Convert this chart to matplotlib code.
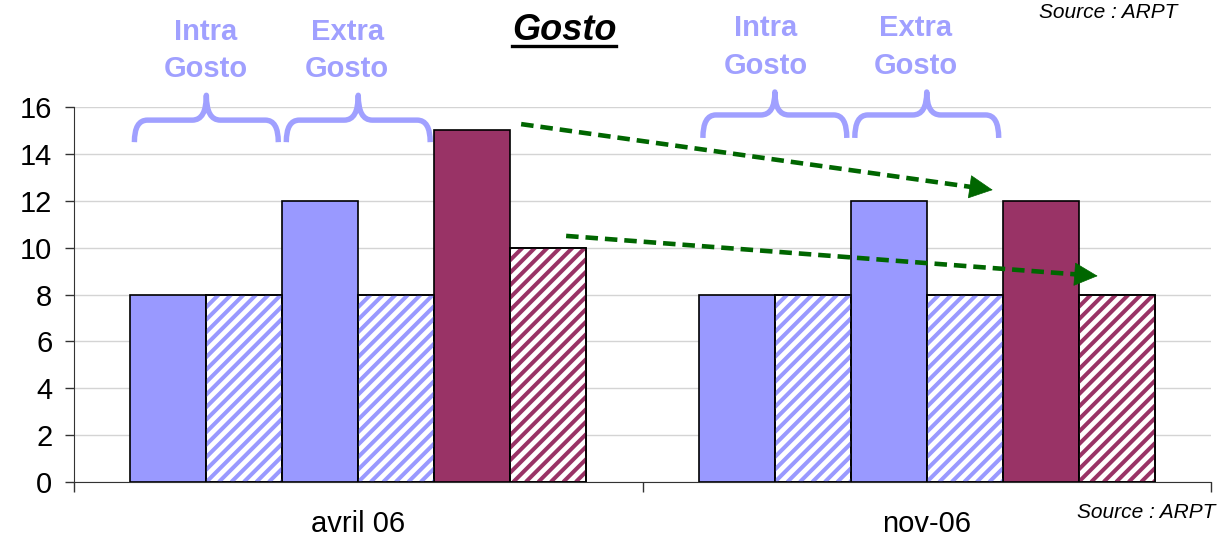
import numpy as np
import matplotlib
matplotlib.use("Agg")
import matplotlib.pyplot as plt
from matplotlib.path import Path
from matplotlib.patches import PathPatch
from matplotlib.collections import LineCollection
from matplotlib.lines import Line2D
from matplotlib.transforms import IdentityTransform

plt.rcParams['font.family'] = ['Liberation Sans', 'DejaVu Sans']
plt.rcParams['lines.scale_dashes'] = False

# ---- data ----
categories = ["avril 06", "nov-06"]
intra_solid = [8, 8]
intra_hatch = [8, 8]
extra_solid = [12, 12]
extra_hatch = [8, 8]
gosto_solid = [15, 12]
gosto_hatch = [10, 8]
yticks = [0, 2, 4, 6, 8, 10, 12, 14, 16]
title = "Gosto"
brace_labels = ["Intra\nGosto", "Extra\nGosto"]
source = "Source : ARPT"

BLUE = "#9999FF"
MAROON = "#993366"
BRACE = "#A0A0FF"
GREEN = "#006600"

series = [intra_solid, intra_hatch, extra_solid, extra_hatch, gosto_solid, gosto_hatch]
colors = [BLUE, BLUE, BLUE, BLUE, MAROON, MAROON]
hatched = [False, True, False, True, False, True]

W, H = 1225, 541
fig = plt.figure(figsize=(W / 100, H / 100), dpi=100)
ax = fig.add_axes([74 / W, 1 - 482 / H, (1211 - 74) / W, (482 - 107) / H])
ax.set_xlim(-0.5, 1.5)
ax.set_ylim(0, 16)

bw = 0.1336
x = np.arange(len(categories))
bars = []
for i, (vals, col, hat) in enumerate(zip(series, colors, hatched)):
    fc = "white" if hat else col
    b = ax.bar(x + (i - 2.5) * bw, vals, width=bw, color=fc, edgecolor="black",
               linewidth=1.2, zorder=3)
    bars.append((b, col, hat))

# axes styling
ax.set_axisbelow(True)
ax.yaxis.grid(True, color="#D4D4D4", linewidth=1)
ax.set_yticks(yticks)
ax.tick_params(axis="y", labelsize=21, length=6.5, pad=9, width=1, color="#333333")
for s in ["top", "right"]:
    ax.spines[s].set_visible(False)
ax.spines["left"].set_color("#333333")
ax.spines["bottom"].set_color("#333333")
ax.set_xticks([-0.5, 0.5, 1.5])
ax.set_xticklabels([])
ax.set_xticks(x, minor=True)
ax.set_xticklabels(categories, minor=True)
ax.tick_params(axis="x", which="major", length=7, width=1, color="#333333")
ax.tick_params(axis="x", which="minor", length=0, labelsize=21, pad=20)

# custom diagonal stripes for hatched bars
fig.canvas.draw()
period = 12.5
for b, col, hat in bars:
    if not hat:
        continue
    for rect in b:
        bb = rect.get_window_extent()
        x0, y0, x1, y1 = bb.x0, bb.y0, bb.x1, bb.y1
        hgt = y1 - y0
        segs = []
        c = x0 - hgt - period
        while c < x1 + period:
            segs.append([(c, y0), (c + hgt, y1)])
            c += period
        lc = LineCollection(segs, colors=col, linewidths=2.9, transform=IdentityTransform(),
                            zorder=3.5)
        ax.add_collection(lc, autolim=False)
        lc.set_clip_path(rect)
        ax.add_patch(plt.Rectangle(rect.get_xy(), rect.get_width(), rect.get_height(),
                                   fill=False, edgecolor="black", linewidth=1.2, zorder=4))

# braces
px_x = 569.0
px_y = (482 - 107) / 16.0


def brace(xa, xb, xm, yb, ym, yt):
    rx = 13 / px_x
    rt = 14 / px_x
    verts = [(xa, yb), (xa, ym), (xa + rx, ym), (xm - rt, ym), (xm, ym), (xm, yt),
             (xm, ym), (xm + rt, ym), (xb - rx, ym), (xb, ym), (xb, yb)]
    codes = [Path.MOVETO, Path.CURVE3, Path.CURVE3, Path.LINETO, Path.CURVE3, Path.CURVE3,
             Path.CURVE3, Path.CURVE3, Path.LINETO, Path.CURVE3, Path.CURVE3]
    p = PathPatch(Path(verts, codes), fill=False, edgecolor=BRACE, linewidth=3.9,
                  capstyle="butt", joinstyle="round", clip_on=False, zorder=5)
    ax.add_patch(p)


brace_y = [(14.5, 15.44, 16.5), (14.68, 15.66, 16.64)]
label_y = [18.41, 18.56]
label_dx = [[-1, -11], [-9, -11]]
inset = 4 / px_x
for g in range(2):
    for k in range(2):
        left = x[g] + (2 * k - 2.5) * bw - bw / 2
        right = left + 2 * bw
        xa, xb = left + inset, right - inset
        xm = (left + right) / 2
        yb, ym, yt = brace_y[g]
        brace(xa, xb, xm, yb, ym, yt)
        ax.text(xm + label_dx[g][k] / px_x, label_y[g], brace_labels[k], color=BRACE,
                fontsize=21, fontweight="bold", ha="center", va="center",
                linespacing=1.42, clip_on=False)

# title with underline
t = ax.text((565 - 359) / px_x, 19.28, title, fontsize=26, fontweight="bold",
            fontstyle="italic", ha="center", va="center", clip_on=False)
fig.canvas.draw()
tb = t.get_window_extent()
uy = H - 46
fig.add_artist(Line2D([tb.x0 / W, tb.x1 / W], [uy / H, uy / H], color="black",
                      linewidth=2.4, transform=fig.transFigure))

# source labels
fig.text(1108 / W, 1 - 13 / H, source, fontsize=15, fontstyle="italic", ha="center", va="center")
fig.text(1146 / W, 1 - 512 / H, source, fontsize=15, fontstyle="italic", ha="center", va="center")


# dashed green arrows
def dashed_arrow(start, end):
    T = ax.transData
    sp = T.transform(start)
    ep = T.transform(end)
    d = ep - sp
    u = d / np.hypot(*d)
    back = T.inverted().transform(ep - u * 17)
    mid = T.inverted().transform(ep - u * 14)
    ax.plot([start[0], mid[0]], [start[1], mid[1]], color=GREEN, linewidth=3.3,
            dashes=(9, 5), clip_on=False, zorder=6, solid_capstyle="butt",
            dash_capstyle="butt")
    ax.annotate("", xy=end, xytext=back,
                arrowprops=dict(arrowstyle="-|>,head_length=0.8,head_width=0.4",
                                color=GREEN, lw=0.5, mutation_scale=20,
                                shrinkA=0, shrinkB=0), zorder=6)


b4_right0 = x[0] + 1.5 * bw + bw / 2
b4_left1 = x[1] + 1.5 * bw - bw / 2
b5_c0 = x[0] + 2.5 * bw
b5_c1 = x[1] + 2.5 * bw
dashed_arrow((b4_right0 + 11 / px_x, gosto_solid[0] + 0.27),
             (b4_left1 - 10 / px_x, gosto_solid[1] + 0.46))
dashed_arrow((b5_c0 + 18 / px_x, gosto_hatch[0] + 0.5),
             (b5_c1 - 19 / px_x, gosto_hatch[1] + 0.79))

fig.savefig("out.png", dpi=100)
